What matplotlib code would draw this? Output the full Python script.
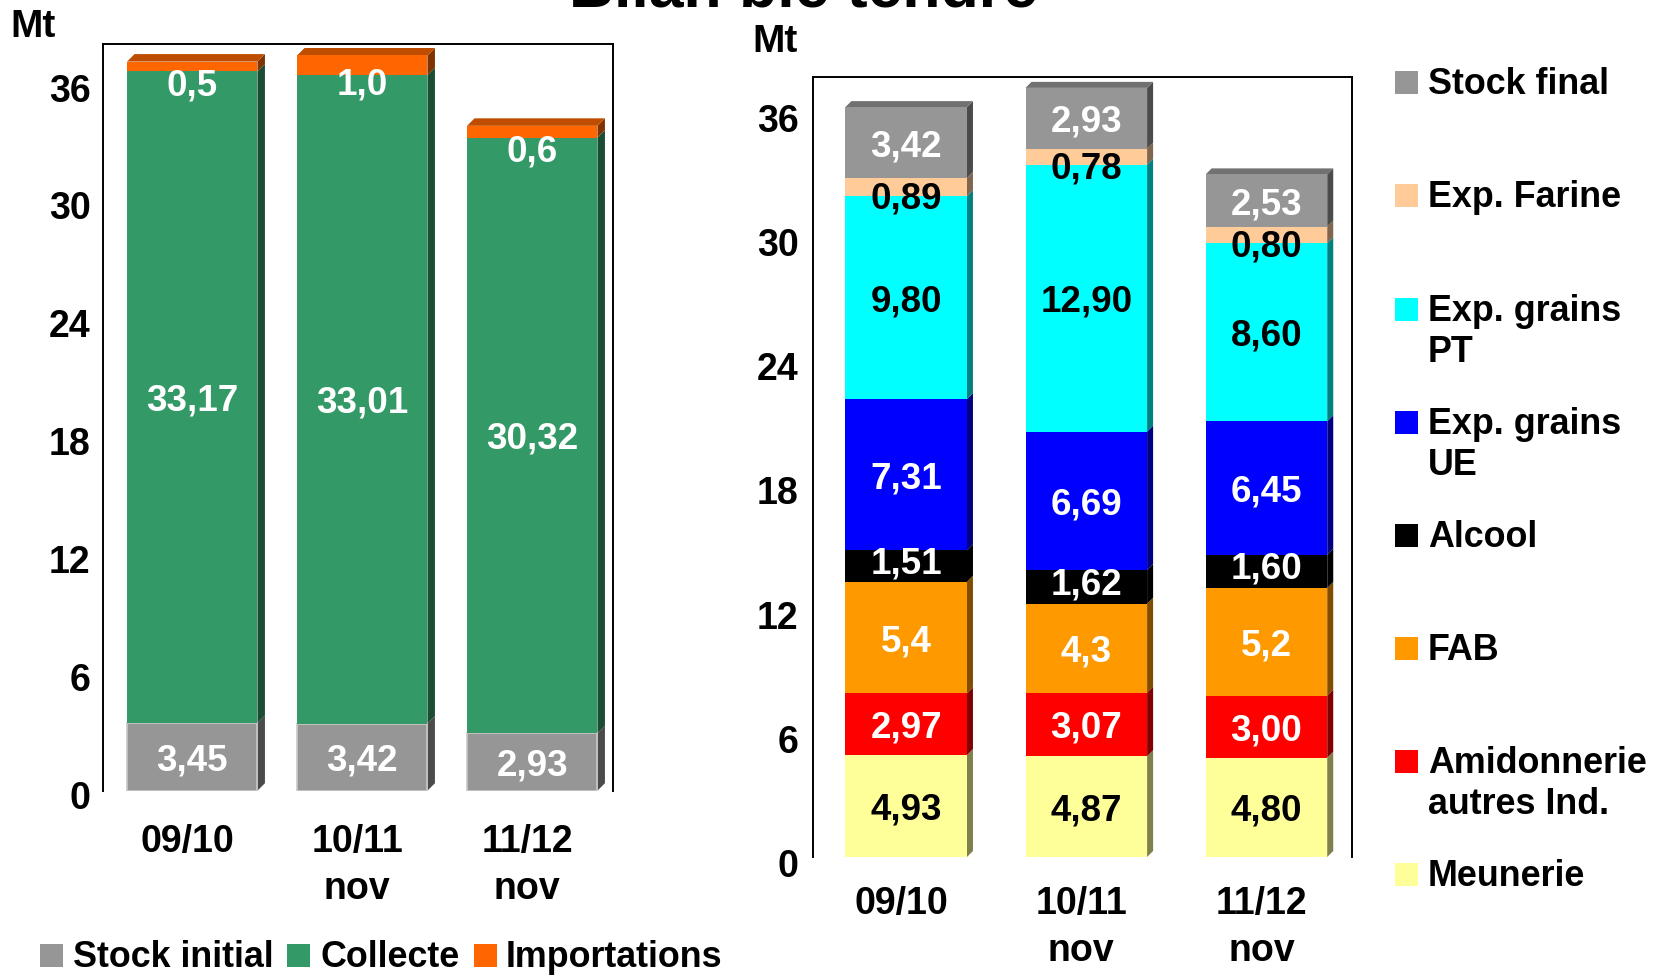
import numpy as np
import matplotlib
matplotlib.use('Agg')
import matplotlib.pyplot as plt
import matplotlib.colors as mcolors
from matplotlib.patches import Polygon, Rectangle
from matplotlib.transforms import ScaledTranslation

plt.rcParams['font.family'] = ['Liberation Sans', 'DejaVu Sans']
plt.rcParams['font.weight'] = 'bold'

W, H = 1660, 976

campagnes = ['09/10', '10/11\nnov', '11/12\nnov']

# Ressources (Mt)
stock_initial = [3.45, 3.42, 2.93]
collecte = [33.17, 33.01, 30.32]
importations = [0.5, 1.0, 0.6]

# Emplois (Mt)
meunerie = [4.93, 4.87, 4.80]
amidonnerie = [2.97, 3.07, 3.00]
fab = [5.4, 4.3, 5.2]
alcool = [1.51, 1.62, 1.60]
exp_ue = [7.31, 6.69, 6.45]
exp_pt = [9.80, 12.90, 8.60]
exp_farine = [0.89, 0.78, 0.80]
stock_final = [3.42, 2.93, 2.53]

res_noms = ['Stock initial', 'Collecte', 'Importations']
res_couleurs = ['#969696', '#339966', '#FF6600']

emp_noms = ['Meunerie', 'Amidonnerie\nautres Ind.', 'FAB', 'Alcool',
            'Exp. grains\nUE', 'Exp. grains\nPT', 'Exp. Farine', 'Stock final']
emp_couleurs = ['#FFFF99', '#FF0000', '#FF9900', '#000000',
                '#0000FF', '#00FFFF', '#FFCC99', '#969696']


def shade(color, f):
    r, g, b = mcolors.to_rgb(color)
    return (r * f, g * f, b * f)


def fmt(v, d):
    return f'{v:.{d}f}'.replace('.', ',')


def stacked_3d(ax, series, colors, decimals, txt_colors, label_dy, width, depth, edges=None):
    x = np.arange(len(campagnes))
    inv = ax.transData.inverted()
    p0 = inv.transform((0, 0))
    p1 = inv.transform((depth, depth))
    ddx, ddy = p1 - p0
    bottom = np.zeros(len(x))
    for k, (vals, col) in enumerate(zip(series, colors)):
        vals = np.asarray(vals, dtype=float)
        ec = edges[k] if edges else col
        ax.bar(x, vals, width, bottom=bottom, color=col, edgecolor=ec,
               linewidth=1.2 if edges and edges[k] != col else 0, zorder=3)
        for xi, b, v in zip(x, bottom, vals):
            xr = xi + width / 2
            ax.add_patch(Polygon([(xr, b), (xr + ddx, b + ddy), (xr + ddx, b + v + ddy), (xr, b + v)],
                                 closed=True, facecolor=shade(col, 0.5), lw=0, zorder=2, clip_on=False))
            ax.annotate(fmt(v, decimals[k]), (xi, b + v / 2), xytext=(0, -label_dy[k]),
                        textcoords='offset pixels', ha='center', va='center_baseline',
                        fontsize=26.5, color=txt_colors[k], zorder=6)
        bottom = bottom + vals
    for xi, top in zip(x, bottom):
        xl, xr = xi - width / 2, xi + width / 2
        ax.add_patch(Polygon([(xl, top), (xl + ddx, top + ddy), (xr + ddx, top + ddy), (xr, top)],
                             closed=True, facecolor=shade(colors[-1], 0.75), lw=0, zorder=2, clip_on=False))


def style_axes(ax, ypad, xpad, dx_lab, dy_lab):
    ax.set_xticks(np.arange(len(campagnes)))
    ax.set_xticklabels(campagnes, fontsize=27, linespacing=1.38)
    ax.set_yticks(np.arange(0, 37, 6))
    ax.tick_params(axis='y', length=0, pad=ypad, labelsize=27)
    ax.tick_params(axis='x', length=0, pad=xpad)
    for s in ['left', 'top', 'right']:
        ax.spines[s].set_linewidth(1.4)
    ax.spines['bottom'].set_visible(False)
    ax.set_facecolor('white')
    # petits décalages des libellés d'axes
    for lbl in ax.get_xticklabels():
        lbl.set_transform(lbl.get_transform() + ScaledTranslation(dx_lab / 100, 0, fig.dpi_scale_trans))
    for lbl in ax.get_yticklabels():
        lbl.set_transform(lbl.get_transform() + ScaledTranslation(0, -dy_lab / 100, fig.dpi_scale_trans))


fig = plt.figure(figsize=(W / 100, H / 100), dpi=100)

# Ressources
ax1 = fig.add_axes([103 / W, 1 - 790.7 / H, (613 - 103) / W, (790.7 - 44.3) / H])
ax1.set_xlim(-0.525, 2.475)
ax1.set_ylim(0, 38)
style_axes(ax1, 9, 24, -5, 4)
stacked_3d(ax1, [stock_initial, collecte, importations], res_couleurs,
           [2, 2, 1], ['white'] * 3, [0, 0, 16], 0.767, 7.5,
           edges=['#c8c8c8', res_couleurs[1], res_couleurs[2]])

# Emplois
ax2 = fig.add_axes([812.5 / W, 1 - 857 / H, (1352 - 812.5) / W, (857 - 76.7) / H])
ax2.set_xlim(-0.52, 2.475)
ax2.set_ylim(0, 37.7)
style_axes(ax2, 10, 21, -5, 6)
stacked_3d(ax2, [meunerie, amidonnerie, fab, alcool, exp_ue, exp_pt, exp_farine, stock_final],
           emp_couleurs, [2, 2, 1, 2, 2, 2, 2, 2],
           ['black', 'white', 'white', 'white', 'white', 'black', 'black', 'white'],
           [0, 0, 0, -6, 0, 0, 8, 0], 0.675, 6)

fig.text(0.4837, 1 - 8 / H, 'Bilan blé tendre', ha='center', va='baseline', fontsize=45)
fig.text(10.5 / W, 1 - 37 / H, 'Mt', ha='left', va='baseline', fontsize=28)
fig.text(752 / W, 1 - 52 / H, 'Mt', ha='left', va='baseline', fontsize=28)


def legend_entry(x_sq, x_txt, y_base, color, label, step=41):
    fig.patches.append(Rectangle((x_sq / W, 1 - y_base / H), 23 / W, 23 / H,
                                 transform=fig.transFigure, facecolor=color, lw=0))
    for j, line in enumerate(label.split('\n')):
        fig.text(x_txt / W, 1 - (y_base + j * step) / H, line, va='baseline', fontsize=25.8)


# légende ressources (bas)
for nom, col, xs, xt in zip(res_noms, res_couleurs, [40, 287, 474], [73, 320, 506]):
    legend_entry(xs, xt, 967, col, nom)

# légende emplois (droite), du haut vers le bas
for k, (nom, col) in enumerate(zip(emp_noms[::-1], emp_couleurs[::-1])):
    legend_entry(1395, 1428, 94.3 + k * 113.1, col, nom)

fig.savefig('out.png', dpi=100, facecolor='white')
